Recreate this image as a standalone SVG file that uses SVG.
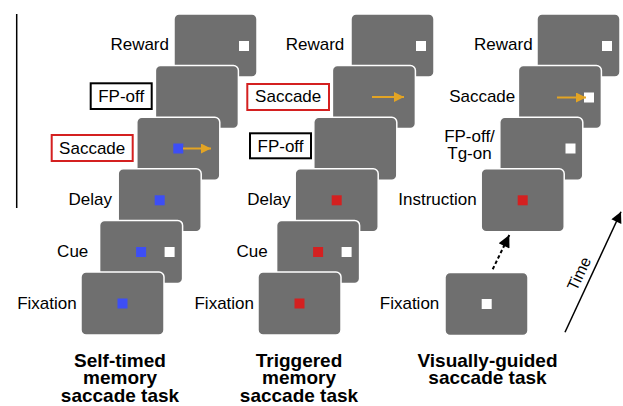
<svg xmlns="http://www.w3.org/2000/svg" width="623" height="406" viewBox="0 0 623 406">
<defs>
<style>
.scr{fill:#6f6f6f;stroke:#ffffff;stroke-width:1.5}
.lb{font-family:"Liberation Sans",Arial,sans-serif;font-size:17px;fill:#000}
.e{text-anchor:end}
.m{text-anchor:middle}
.tt{font-family:"Liberation Sans",Arial,sans-serif;font-size:19px;font-weight:bold;fill:#000;text-anchor:middle}
.bl{fill:#3d4ef5}
.rd{fill:#d42020}
.wt{fill:#ffffff}
.bxk{fill:#fff;stroke:#000;stroke-width:2}
.bxr{fill:#fff;stroke:#d42020;stroke-width:2}
.sac{stroke:#e3a424;stroke-width:2;fill:none;marker-end:url(#oh)}
</style>
<marker id="oh" viewBox="0 0 10 10" refX="10" refY="5" markerWidth="11" markerHeight="10" markerUnits="userSpaceOnUse" orient="auto"><path d="M0,0L10,5L0,10z" fill="#e3a424"/></marker>
<marker id="bh" viewBox="0 0 10 10" refX="10" refY="5" markerWidth="15" markerHeight="11" markerUnits="userSpaceOnUse" orient="auto"><path d="M0,0L10,5L0,10z" fill="#000"/></marker>
<marker id="dh" viewBox="0 0 10 10" refX="10" refY="5" markerWidth="17" markerHeight="12" markerUnits="userSpaceOnUse" orient="auto"><path d="M0,0L10,5L0,10z" fill="#000"/></marker>
</defs>
<rect width="623" height="406" fill="#fff"/>
<line x1="16.7" y1="14" x2="16.7" y2="208" stroke="#000" stroke-width="1.5"/>

<!-- Column 1: Self-timed -->
<g id="c1-reward"><rect class="scr" x="174" y="14" width="83" height="63" rx="5"/><rect class="wt" x="239" y="41" width="10" height="10"/><text class="lb e" x="169" y="50">Reward</text></g>
<g id="c1-fpoff"><rect class="scr" x="155.4" y="65.6" width="83" height="63" rx="5"/><rect class="bxk" x="90.7" y="83.3" width="61" height="25.7"/><text class="lb m" x="121.2" y="102">FP-off</text></g>
<g id="c1-saccade"><rect class="scr" x="136.8" y="117.2" width="83" height="63" rx="5"/><rect class="bl" x="173.3" y="143.5" width="10" height="10"/><line class="sac" x1="183" y1="148.5" x2="211" y2="148.5"/><rect class="bxr" x="51.7" y="135" width="81" height="26"/><text class="lb m" x="92.2" y="153.5">Saccade</text></g>
<g id="c1-delay"><rect class="scr" x="118.2" y="168.8" width="83" height="63" rx="5"/><rect class="bl" x="154.7" y="195.3" width="10" height="10"/><text class="lb e" x="112" y="205">Delay</text></g>
<g id="c1-cue"><rect class="scr" x="99.6" y="220.4" width="83" height="63" rx="5"/><rect class="bl" x="136.1" y="247" width="10" height="10"/><rect class="wt" x="164.6" y="247" width="10" height="10"/><text class="lb e" x="88.3" y="257">Cue</text></g>
<g id="c1-fixation"><rect class="scr" x="81" y="272" width="83" height="63" rx="5"/><rect class="bl" x="117.5" y="298.5" width="10" height="10"/><text class="lb e" x="76.7" y="308.5">Fixation</text></g>
<g id="c1-title"><text class="tt" x="120" y="367">Self-timed</text><text class="tt" x="120" y="384.3">memory</text><text class="tt" x="120" y="401.6">saccade task</text></g>

<!-- Column 2: Triggered -->
<g id="c2-reward"><rect class="scr" x="351" y="14" width="83" height="63" rx="5"/><rect class="wt" x="416" y="41" width="10" height="10"/><text class="lb e" x="344.3" y="50">Reward</text></g>
<g id="c2-saccade"><rect class="scr" x="332.4" y="65.6" width="83" height="63" rx="5"/><line class="sac" x1="372" y1="97" x2="404" y2="97"/><rect class="bxr" x="247.3" y="84" width="81.7" height="26"/><text class="lb m" x="288.2" y="102.3">Saccade</text></g>
<g id="c2-fpoff"><rect class="scr" x="313.8" y="117.2" width="83" height="63" rx="5"/><rect class="bxk" x="250" y="133.3" width="61" height="25"/><text class="lb m" x="280.5" y="152">FP-off</text></g>
<g id="c2-delay"><rect class="scr" x="295.2" y="168.8" width="83" height="63" rx="5"/><rect class="rd" x="331.7" y="195.3" width="10" height="10"/><text class="lb e" x="290.7" y="205">Delay</text></g>
<g id="c2-cue"><rect class="scr" x="276.6" y="220.4" width="83" height="63" rx="5"/><rect class="rd" x="313.1" y="247" width="10" height="10"/><rect class="wt" x="341.6" y="247" width="10" height="10"/><text class="lb e" x="267.7" y="257">Cue</text></g>
<g id="c2-fixation"><rect class="scr" x="258" y="272" width="83" height="63" rx="5"/><rect class="rd" x="294.5" y="298.5" width="10" height="10"/><text class="lb e" x="254" y="308.5">Fixation</text></g>
<g id="c2-title"><text class="tt" x="299" y="367">Triggered</text><text class="tt" x="299" y="384.3">memory</text><text class="tt" x="299" y="401.6">saccade task</text></g>

<!-- Column 3: Visually-guided -->
<g id="c3-reward"><rect class="scr" x="537" y="14" width="83" height="63" rx="5"/><rect class="wt" x="602" y="41" width="10" height="10"/><text class="lb e" x="532.7" y="50">Reward</text></g>
<g id="c3-saccade"><rect class="scr" x="518.4" y="65.6" width="83" height="63" rx="5"/><rect class="wt" x="584" y="92.5" width="10" height="10"/><line class="sac" x1="557" y1="97.5" x2="586" y2="97.5"/><text class="lb e" x="515.3" y="101.5">Saccade</text></g>
<g id="c3-fpoff"><rect class="scr" x="499.8" y="117.2" width="83" height="63" rx="5"/><rect class="wt" x="565.5" y="143.5" width="10" height="10"/><text class="lb m" x="469.5" y="142.3">FP-off/</text><text class="lb m" x="469.5" y="159">Tg-on</text></g>
<g id="c3-instruction"><rect class="scr" x="481.2" y="168.8" width="83" height="63" rx="5"/><rect class="rd" x="517.7" y="195.3" width="10" height="10"/><text class="lb e" x="476.7" y="205">Instruction</text></g>
<g id="c3-fixation"><rect class="scr" x="445" y="272.5" width="83" height="63" rx="5"/><rect class="wt" x="481.7" y="299" width="10" height="10"/><text class="lb e" x="439.3" y="308.5">Fixation</text></g>
<g id="c3-title"><text class="tt" x="487.5" y="367">Visually-guided</text><text class="tt" x="487.5" y="384.3">saccade task</text></g>

<g id="connectors">
<line x1="492.7" y1="269.3" x2="509.3" y2="235" stroke="#000" stroke-width="2" stroke-dasharray="3.5,2.5" marker-end="url(#dh)"/>
<line x1="565" y1="332.3" x2="621" y2="211.7" stroke="#000" stroke-width="1.5" marker-end="url(#bh)"/>
<text class="lb m" x="0" y="0" transform="translate(584,276) rotate(-65)" style="font-size:16px">Time</text>
</g>
</svg>
